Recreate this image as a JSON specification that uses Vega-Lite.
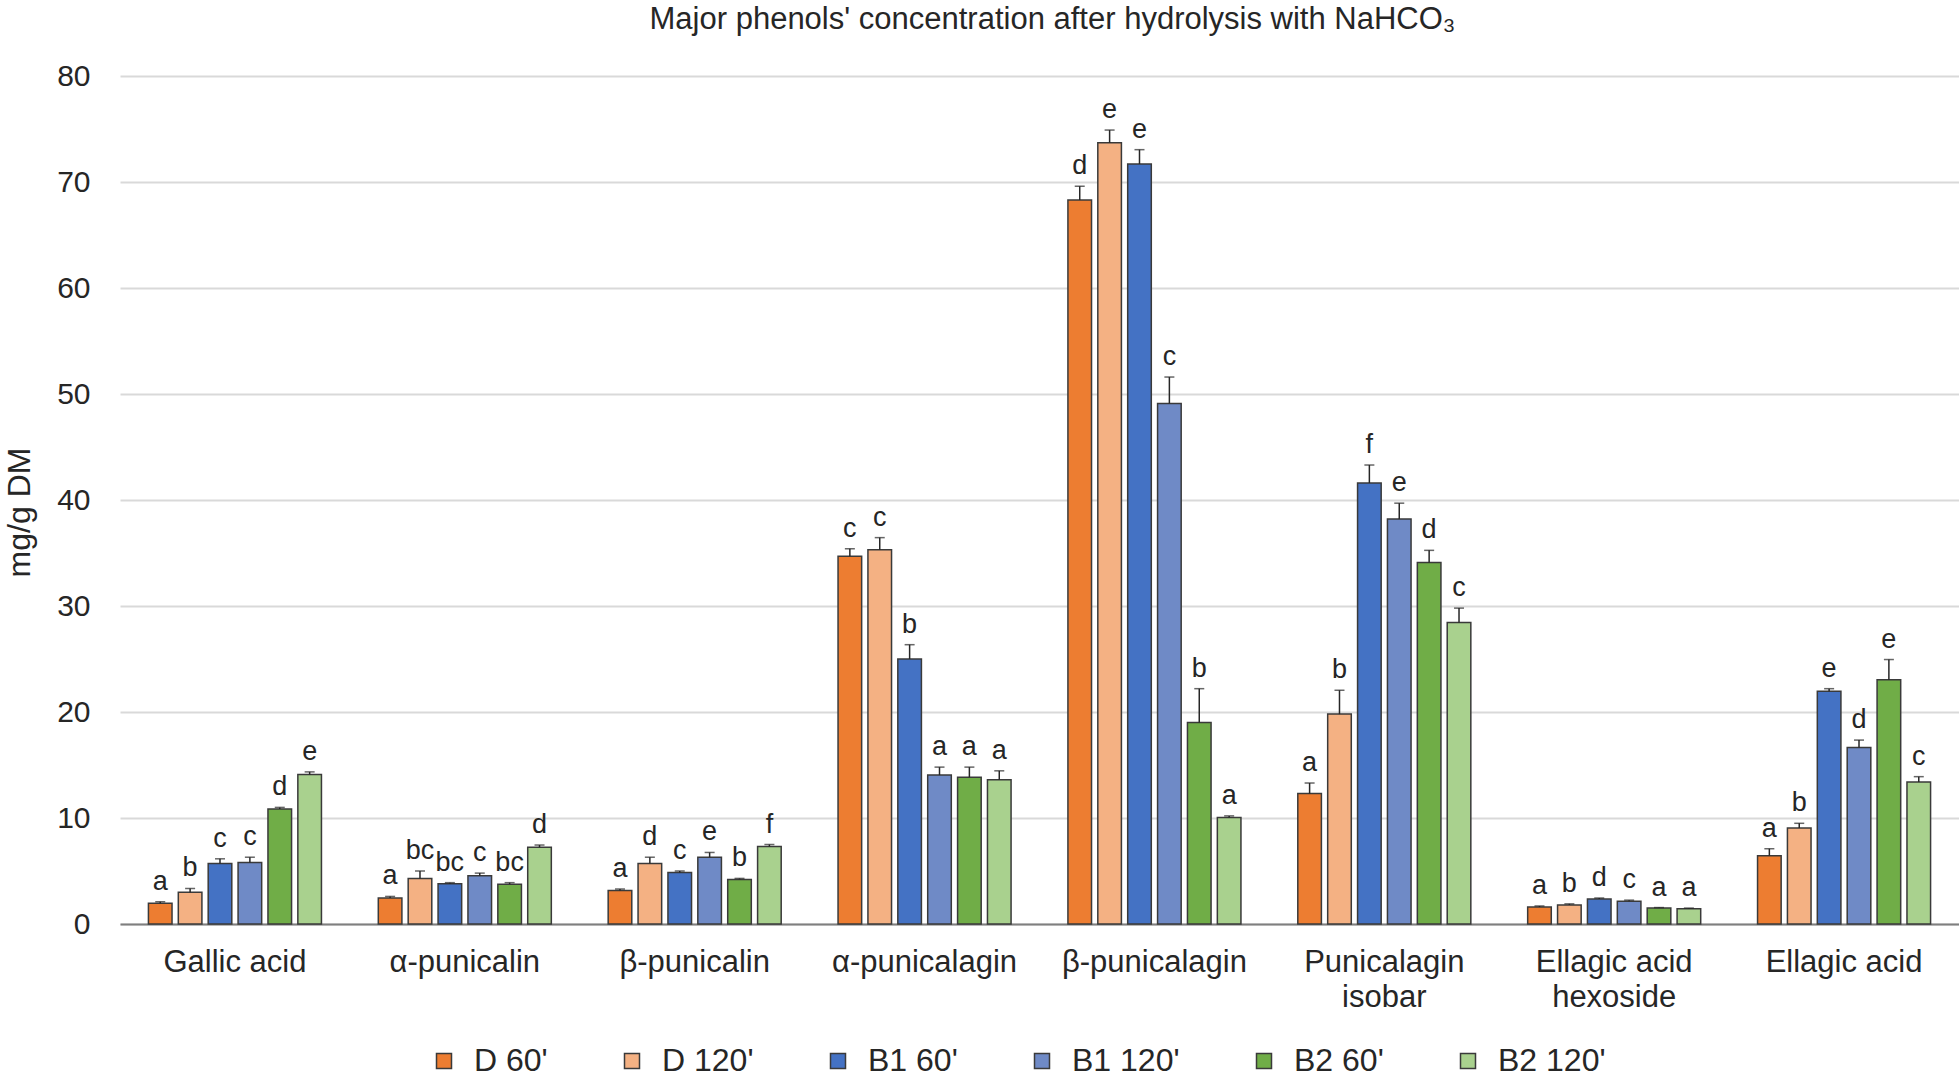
{
  "$schema": "https://vega.github.io/schema/vega-lite/v6.json",
  "autosize": "none",
  "width": 1839,
  "height": 848,
  "padding": {"left": 120, "top": 76, "right": 0, "bottom": 155},
  "background": "white",
  "title": {
    "text": "Major phenols' concentration after hydrolysis with NaHCO₃",
    "fontSize": 31,
    "font": "Liberation Sans",
    "fontWeight": "normal",
    "color": "#262626",
    "anchor": "middle",
    "frame": "group",
    "baseline": "bottom",
    "offset": -6,
    "dx": 13
  },
  "config": {
    "view": {"stroke": null},
    "font": "Liberation Sans"
  },
  "data": {
    "values": [
      {"compound": "Gallic acid", "treatment": "D 60'", "value": 1.95, "hi": 2.1, "letter": "a"},
      {"compound": "Gallic acid", "treatment": "D 120'", "value": 3.0, "hi": 3.35, "letter": "b"},
      {"compound": "Gallic acid", "treatment": "B1 60'", "value": 5.7, "hi": 6.15, "letter": "c"},
      {"compound": "Gallic acid", "treatment": "B1 120'", "value": 5.8, "hi": 6.3, "letter": "c"},
      {"compound": "Gallic acid", "treatment": "B2 60'", "value": 10.85, "hi": 11.0, "letter": "d"},
      {"compound": "Gallic acid", "treatment": "B2 120'", "value": 14.1, "hi": 14.35, "letter": "e"},
      {"compound": "α-punicalin", "treatment": "D 60'", "value": 2.45, "hi": 2.6, "letter": "a"},
      {"compound": "α-punicalin", "treatment": "D 120'", "value": 4.3, "hi": 5.0, "letter": "bc"},
      {"compound": "α-punicalin", "treatment": "B1 60'", "value": 3.8, "hi": 3.9, "letter": "bc"},
      {"compound": "α-punicalin", "treatment": "B1 120'", "value": 4.55, "hi": 4.8, "letter": "c"},
      {"compound": "α-punicalin", "treatment": "B2 60'", "value": 3.75, "hi": 3.9, "letter": "bc"},
      {"compound": "α-punicalin", "treatment": "B2 120'", "value": 7.25, "hi": 7.45, "letter": "d"},
      {"compound": "β-punicalin", "treatment": "D 60'", "value": 3.15, "hi": 3.3, "letter": "a"},
      {"compound": "β-punicalin", "treatment": "D 120'", "value": 5.7, "hi": 6.3, "letter": "d"},
      {"compound": "β-punicalin", "treatment": "B1 60'", "value": 4.85, "hi": 5.0, "letter": "c"},
      {"compound": "β-punicalin", "treatment": "B1 120'", "value": 6.3, "hi": 6.75, "letter": "e"},
      {"compound": "β-punicalin", "treatment": "B2 60'", "value": 4.2, "hi": 4.3, "letter": "b"},
      {"compound": "β-punicalin", "treatment": "B2 120'", "value": 7.3, "hi": 7.5, "letter": "f"},
      {"compound": "α-punicalagin", "treatment": "D 60'", "value": 34.7, "hi": 35.4, "letter": "c"},
      {"compound": "α-punicalagin", "treatment": "D 120'", "value": 35.3, "hi": 36.45, "letter": "c"},
      {"compound": "α-punicalagin", "treatment": "B1 60'", "value": 25.0, "hi": 26.35, "letter": "b"},
      {"compound": "α-punicalagin", "treatment": "B1 120'", "value": 14.05, "hi": 14.8, "letter": "a"},
      {"compound": "α-punicalagin", "treatment": "B2 60'", "value": 13.85, "hi": 14.8, "letter": "a"},
      {"compound": "α-punicalagin", "treatment": "B2 120'", "value": 13.6, "hi": 14.45, "letter": "a"},
      {"compound": "β-punicalagin", "treatment": "D 60'", "value": 68.3, "hi": 69.6, "letter": "d"},
      {"compound": "β-punicalagin", "treatment": "D 120'", "value": 73.7, "hi": 74.9, "letter": "e"},
      {"compound": "β-punicalagin", "treatment": "B1 60'", "value": 71.7, "hi": 73.05, "letter": "e"},
      {"compound": "β-punicalagin", "treatment": "B1 120'", "value": 49.1, "hi": 51.6, "letter": "c"},
      {"compound": "β-punicalagin", "treatment": "B2 60'", "value": 19.0, "hi": 22.2, "letter": "b"},
      {"compound": "β-punicalagin", "treatment": "B2 120'", "value": 10.05, "hi": 10.2, "letter": "a"},
      {"compound": "Punicalagin isobar", "treatment": "D 60'", "value": 12.3, "hi": 13.3, "letter": "a"},
      {"compound": "Punicalagin isobar", "treatment": "D 120'", "value": 19.8, "hi": 22.05, "letter": "b"},
      {"compound": "Punicalagin isobar", "treatment": "B1 60'", "value": 41.6, "hi": 43.3, "letter": "f"},
      {"compound": "Punicalagin isobar", "treatment": "B1 120'", "value": 38.2, "hi": 39.7, "letter": "e"},
      {"compound": "Punicalagin isobar", "treatment": "B2 60'", "value": 34.1, "hi": 35.25, "letter": "d"},
      {"compound": "Punicalagin isobar", "treatment": "B2 120'", "value": 28.45, "hi": 29.8, "letter": "c"},
      {"compound": "Ellagic acid hexoside", "treatment": "D 60'", "value": 1.6, "hi": 1.7, "letter": "a"},
      {"compound": "Ellagic acid hexoside", "treatment": "D 120'", "value": 1.8, "hi": 1.9, "letter": "b"},
      {"compound": "Ellagic acid hexoside", "treatment": "B1 60'", "value": 2.35, "hi": 2.45, "letter": "d"},
      {"compound": "Ellagic acid hexoside", "treatment": "B1 120'", "value": 2.15, "hi": 2.25, "letter": "c"},
      {"compound": "Ellagic acid hexoside", "treatment": "B2 60'", "value": 1.5, "hi": 1.55, "letter": "a"},
      {"compound": "Ellagic acid hexoside", "treatment": "B2 120'", "value": 1.45, "hi": 1.5, "letter": "a"},
      {"compound": "Ellagic acid", "treatment": "D 60'", "value": 6.45, "hi": 7.1, "letter": "a"},
      {"compound": "Ellagic acid", "treatment": "D 120'", "value": 9.05, "hi": 9.5, "letter": "b"},
      {"compound": "Ellagic acid", "treatment": "B1 60'", "value": 21.95, "hi": 22.2, "letter": "e"},
      {"compound": "Ellagic acid", "treatment": "B1 120'", "value": 16.65, "hi": 17.35, "letter": "d"},
      {"compound": "Ellagic acid", "treatment": "B2 60'", "value": 23.05, "hi": 24.95, "letter": "e"},
      {"compound": "Ellagic acid", "treatment": "B2 120'", "value": 13.4, "hi": 13.9, "letter": "c"}
    ]
  },
  "encoding": {
    "x": {
      "field": "compound",
      "type": "nominal",
      "sort": ["Gallic acid", "α-punicalin", "β-punicalin", "α-punicalagin", "β-punicalagin", "Punicalagin isobar", "Ellagic acid hexoside", "Ellagic acid"],
      "scale": {"paddingInner": 0.22, "paddingOuter": 0.11},
      "axis": {
        "title": null,
        "labelAngle": 0,
        "ticks": false,
        "domainColor": "#7f7f7f",
        "domainWidth": 2,
        "labelFontSize": 31,
        "labelColor": "#262626",
        "labelPadding": 23,
        "labelBaseline": "top",
        "labelLineHeight": 35,
        "labelLimit": 400,
        "labelFont": "Liberation Sans",
        "labelExpr": "datum.value == 'Punicalagin isobar' ? ['Punicalagin', 'isobar'] : datum.value == 'Ellagic acid hexoside' ? ['Ellagic acid', 'hexoside'] : datum.value"
      }
    },
    "xOffset": {
      "field": "treatment",
      "type": "nominal",
      "sort": ["D 60'", "D 120'", "B1 60'", "B1 120'", "B2 60'", "B2 120'"],
      "scale": {"paddingInner": 0.21, "paddingOuter": 0.105}
    }
  },
  "layer": [
    {
      "mark": {"type": "bar", "stroke": "#3a3a3a", "strokeWidth": 1.5},
      "encoding": {
        "y": {
          "field": "value",
          "type": "quantitative",
          "scale": {"domain": [0, 80], "nice": false},
          "axis": {
            "values": [0, 10, 20, 30, 40, 50, 60, 70, 80],
            "grid": true,
            "gridColor": "#d9d9d9",
            "gridWidth": 2,
            "domain": false,
            "ticks": false,
            "labelPadding": 30,
            "labelFontSize": 30,
            "labelColor": "#262626",
            "labelFont": "Liberation Sans",
            "title": "mg/g DM",
            "titleFontSize": 32,
            "titleFontWeight": "normal",
            "titleColor": "#262626",
            "titleFont": "Liberation Sans",
            "titleX": -101,
            "titleY": 436,
            "titleBaseline": "middle"
          }
        },
        "color": {
          "field": "treatment",
          "type": "nominal",
          "scale": {
            "domain": ["D 60'", "D 120'", "B1 60'", "B1 120'", "B2 60'", "B2 120'"],
            "range": ["#ED7D31", "#F4B183", "#4472C4", "#6F8AC6", "#70AD47", "#A9D18E"]
          },
          "legend": {
            "title": null,
            "orient": "none",
            "direction": "horizontal",
            "legendX": 308,
            "legendY": 969,
            "symbolType": "square",
            "symbolSize": 225,
            "symbolStrokeColor": "#3a3a3a",
            "symbolStrokeWidth": 1.5,
            "labelFontSize": 32,
            "labelColor": "#262626",
            "labelFont": "Liberation Sans",
            "labelOffset": 14,
            "columnPadding": 68
          }
        }
      }
    },
    {
      "mark": {"type": "rule", "color": "#262626", "strokeWidth": 1.5},
      "encoding": {
        "y": {"field": "value", "type": "quantitative"},
        "y2": {"field": "hi"}
      }
    },
    {
      "mark": {"type": "tick", "color": "#262626", "thickness": 1.5, "size": 10, "orient": "horizontal"},
      "encoding": {
        "y": {"field": "hi", "type": "quantitative"}
      }
    },
    {
      "mark": {"type": "text", "fontSize": 27, "color": "#262626", "baseline": "alphabetic", "dy": -12, "font": "Liberation Sans"},
      "encoding": {
        "y": {"field": "hi", "type": "quantitative"},
        "text": {"field": "letter"}
      }
    }
  ]
}
